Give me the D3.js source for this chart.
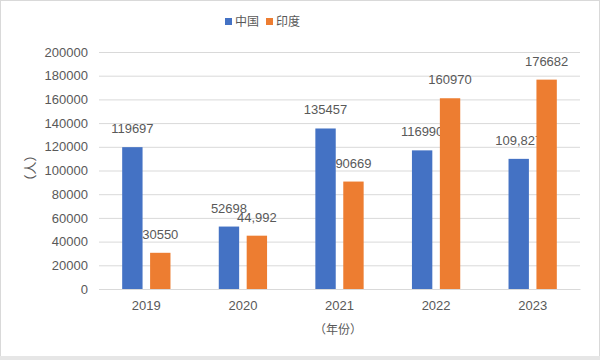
<!DOCTYPE html>
<html>
<head>
<meta charset="utf-8">
<script src="https://cdn.jsdelivr.net/npm/d3@7"></script>
<style>
  body { margin: 0; background: #fff; }
  text { font-family: "Liberation Sans", Arial, "Noto Sans CJK SC", sans-serif; fill: #595959; }
</style>
</head>
<body>
<div id="chart"></div>
<script>
const years = ["2019", "2020", "2021", "2022", "2023"]
const seriesNames = ["中国", "印度"]
const china = [119697, 52698, 135457, 116990, 109827]
const india = [30550, 44992, 90669, 160970, 176682]
const chinaLabels = ["119697", "52698", "135457", "116990", "109,827"]
const indiaLabels = ["30550", "44,992", "90669", "160970", "176682"]
const yTicks = [0, 20000, 40000, 60000, 80000, 100000, 120000, 140000, 160000, 180000, 200000]

const colors = ["#4472C4", "#ED7D31"]
const W = 600, H = 360
const MARGIN = { LEFT: 99, RIGHT: 20, TOP: 52, BOTTOM: 71 }

const svg = d3.select("#chart").append("svg")
  .attr("width", W)
  .attr("height", H)

// outer frame
svg.append("rect")
  .attr("x", 0.5).attr("y", 0.5)
  .attr("width", W - 1).attr("height", H - 1)
  .attr("fill", "#fff")
  .attr("stroke", "#d9d9d9")
svg.append("rect")
  .attr("x", 0).attr("y", H - 4)
  .attr("width", W).attr("height", 4)
  .attr("fill", "#e6e6e6")

const x0 = d3.scaleBand()
  .domain(years)
  .range([MARGIN.LEFT, W - MARGIN.RIGHT])
  .paddingInner(0.5)
  .paddingOuter(0.24)
const x1 = d3.scaleBand()
  .domain(seriesNames)
  .range([0, x0.bandwidth()])
  .paddingInner(0.27)
  .paddingOuter(0)
const y = d3.scaleLinear()
  .domain([0, 200000])
  .range([H - MARGIN.BOTTOM, MARGIN.TOP])

// gridlines
const yAxis = svg.append("g")
  .attr("transform", `translate(${MARGIN.LEFT}, 0)`)
  .call(d3.axisLeft(y).tickValues(yTicks).tickFormat(d3.format("d"))
    .tickSize(-(W - MARGIN.LEFT - MARGIN.RIGHT)).tickPadding(11))
yAxis.select(".domain").remove()
yAxis.selectAll("line").attr("stroke", "#d9d9d9")
yAxis.selectAll("text").attr("font-size", 13).attr("fill", "#595959")

// x axis
const xAxis = svg.append("g")
  .attr("transform", `translate(0, ${y(0)})`)
  .call(d3.axisBottom(x0).tickSize(0).tickPadding(12))
xAxis.select(".domain").attr("stroke", "#d9d9d9")
xAxis.selectAll("text").attr("font-size", 13).attr("fill", "#595959")

// bars
const series = [china, india]
const labels = [chinaLabels, indiaLabels]
series.forEach((vals, s) => {
  const g = svg.append("g")
  g.selectAll("rect")
    .data(vals)
    .enter().append("rect")
    .attr("x", (d, i) => x0(years[i]) + x1(seriesNames[s]))
    .attr("y", d => y(d))
    .attr("width", x1.bandwidth())
    .attr("height", d => y(0) - y(d))
    .attr("fill", colors[s])
  g.selectAll("text")
    .data(vals)
    .enter().append("text")
    .attr("x", (d, i) => x0(years[i]) + x1(seriesNames[s]) + x1.bandwidth() / 2)
    .attr("y", d => y(d) - 14)
    .attr("text-anchor", "middle")
    .attr("font-size", 13)
    .attr("fill", "#404040")
    .text((d, i) => labels[s][i])
})

// axis titles
svg.append("text")
  .attr("transform", "translate(30, 168) rotate(-90)")
  .attr("text-anchor", "middle")
  .attr("dy", "0.35em")
  .attr("font-size", 13)
  .text("（人）")
svg.append("text")
  .attr("x", 338)
  .attr("y", 330)
  .attr("text-anchor", "middle")
  .attr("dy", "0.35em")
  .attr("font-size", 12)
  .text("（年份）")

// legend
const legend = svg.append("g")
const legendX = [225, 266]
seriesNames.forEach((name, s) => {
  legend.append("rect")
    .attr("x", legendX[s]).attr("y", 18)
    .attr("width", 7).attr("height", 7)
    .attr("fill", colors[s])
  legend.append("text")
    .attr("x", legendX[s] + 10).attr("y", 22)
    .attr("dy", "0.35em")
    .attr("font-size", 12)
    .text(name)
})
</script>
</body>
</html>
